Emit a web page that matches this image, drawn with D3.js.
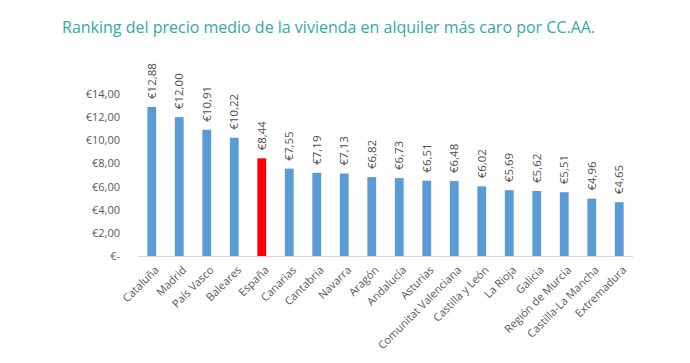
<!DOCTYPE html>
<meta charset="utf-8">
<style>
    body {
        margin: 0;
        background: #fff;
        font-family: "Open Sans", sans-serif;
    }

    .axis text {
        fill: #595959;
        font-size: 11px;
        font-family: "Open Sans", sans-serif;
    }

    .axis path,
    .axis line {
        fill: none;
    }
</style>

<body>
    <script src="https://d3js.org/d3.v7.min.js"></script>
    <script>

        var regions = ["Cataluña", "Madrid", "País Vasco", "Baleares", "España", "Canarias", "Cantabria",
            "Navarra", "Aragón", "Andalucía", "Asturias", "Comunitat Valenciana", "Castilla y León",
            "La Rioja", "Galicia", "Región de Murcia", "Castilla-La Mancha", "Extremadura"];
        var prices = [12.88, 12.00, 10.91, 10.22, 8.44, 7.55, 7.19, 7.13, 6.82, 6.73, 6.51, 6.48, 6.02,
            5.69, 5.62, 5.51, 4.96, 4.65];
        var yTicks = [0, 2, 4, 6, 8, 10, 12, 14];
        var highlight = "España";

        var width = 690, height = 363;
        var margin = { top: 94, right: 57, bottom: 107, left: 138 };

        var svg = d3.select("body").append("svg")
            .attr("width", width)
            .attr("height", height);

        svg.append("text")
            .attr("x", 62)
            .attr("y", 33)
            .attr("fill", "#35a9a6")
            .attr("font-size", "16px")
            .text("Ranking del precio medio de la vivienda en alquiler más caro por CC.AA.");

        var x = d3.scaleBand()
            .domain(regions)
            .range([margin.left, width - margin.right])
            .paddingInner(0.68)
            .paddingOuter(0.34);

        var y = d3.scaleLinear()
            .domain([0, 14])
            .range([height - margin.bottom, margin.top]);

        var fmt = function (v) {
            if (v === 0) return "€-";
            return "€" + v.toFixed(2).replace(".", ",");
        };

        // y axis (labels only)
        var ya = svg.append("g")
            .attr("class", "axis")
            .attr("transform", "translate(" + (margin.left - 15) + ",0)")
            .call(d3.axisLeft(y).tickValues(yTicks).tickFormat(fmt).tickSize(0));
        ya.select(".domain").remove();

        // bars
        svg.selectAll(".bar")
            .data(regions)
            .enter()
            .append("rect")
            .attr("class", "bar")
            .attr("x", function (d) { return x(d); })
            .attr("y", function (d, i) { return y(prices[i]); })
            .attr("width", x.bandwidth())
            .attr("height", function (d, i) { return y(0) - y(prices[i]); })
            .attr("fill", function (d) { return d === highlight ? "#ff0000" : "#5b9bd5"; });

        // baseline
        svg.append("line")
            .attr("x1", margin.left)
            .attr("x2", width - margin.right)
            .attr("y1", y(0) + 0.5)
            .attr("y2", y(0) + 0.5)
            .attr("stroke", "#d9d9d9");

        // value labels
        svg.selectAll(".val")
            .data(regions)
            .enter()
            .append("text")
            .attr("class", "val")
            .attr("transform", function (d, i) {
                return "translate(" + (x(d) + x.bandwidth() / 2 + 4) + "," + (y(prices[i]) - 8) + ") rotate(-90)";
            })
            .attr("fill", "#4d4d4d")
            .attr("font-size", "11.5px")
            .text(function (d, i) { return fmt(prices[i]); });

        // category labels
        var xa = svg.append("g")
            .attr("class", "axis")
            .attr("transform", "translate(0," + y(0) + ")")
            .call(d3.axisBottom(x).tickSize(0));
        xa.select(".domain").remove();
        xa.selectAll("text")
            .attr("text-anchor", "end")
            .attr("dy", "0.35em")
            .attr("transform", "translate(5,12) rotate(-45)")
            .attr("x", 0)
            .attr("y", 0);

    </script>
